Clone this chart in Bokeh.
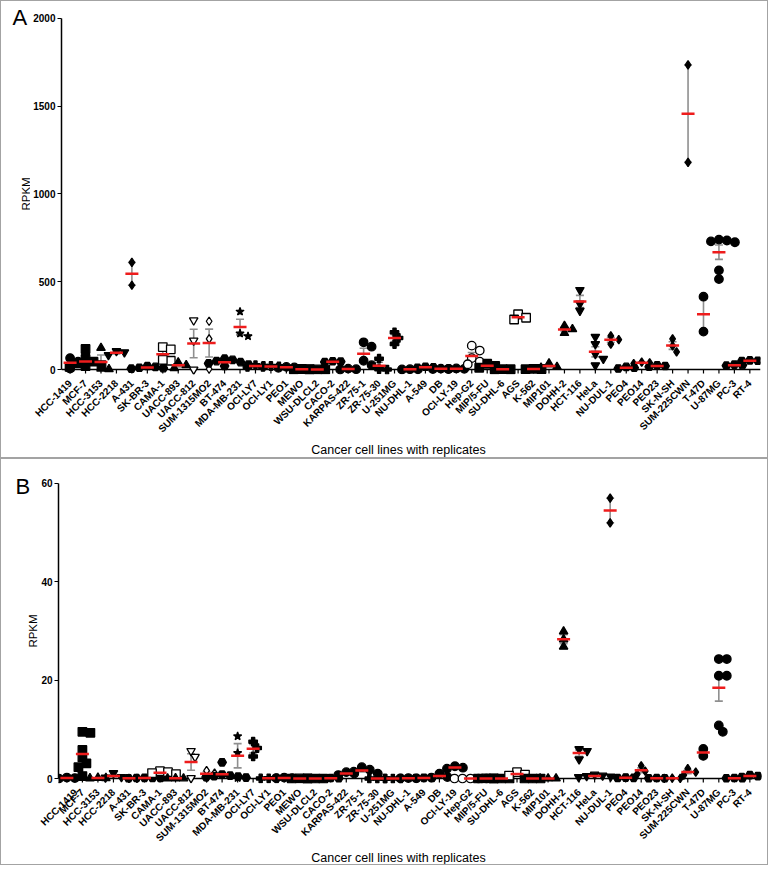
import numpy as np
from bokeh.plotting import figure
from bokeh.models import Range1d, FixedTicker, Label, ColumnDataSource
from bokeh.core.properties import field
from bokeh.layouts import column, row
from bokeh.embed import file_html
from bokeh.resources import INLINE

cell_lines = ["HCC-1419", "MCF-7", "HCC-3153", "HCC-2218", "A-431", "SK-BR-3", "CAMA-1",
              "UACC-893", "UACC-812", "SUM-1315MO2", "BT-474", "MDA-MB-231", "OCI-LY7",
              "OCI-LY1", "PEO1", "MEWO", "WSU-DLCL2", "CACO-2", "KARPAS-422", "ZR-75-1",
              "ZR-75-30", "U-251MG", "NU-DHL-1", "A-549", "DB", "OCI-LY-19", "Hep-G2",
              "MIP/5-FU", "SU-DHL-6", "AGS", "K-562", "MIP101", "DOHH-2", "HCT-116", "HeLa",
              "NU-DUL-1", "PEO4", "PEO14", "PEO23", "SK-N-SH", "SUM-225CWN", "T-47D",
              "U-87MG", "PC-3", "RT-4"]

# Panel A replicates (RPKM)
rpkm_a = [
    [65, 45, 5], [117, 60, 45, 35, 25, 20, 15], [123, 5, 2], [105, 98, 82], [610, 480],
    [20, 15, 10, 5, 8], [128, 115, 50, 55], [40, 25, 8], [280, 165, 0], [275, 175, 3],
    [62, 55, 48, 42, 35, 28, 20], [330, 205, 190], [25, 20, 15], [20, 15, 18], [15, 10, 12],
    [3, 2, 1], [0.5, 0.3, 0.2], [47, 45, 43], [5, 2, 0], [155, 130, 50, 25],
    [62, 2, 0], [212, 180, 145], [2, 1, 0.5], [16, 12, 10], [5, 4, 3],
    [6, 4, 3], [136, 108, 65, 45, 30], [33, 20, 10], [2, 1.5, 1], [315, 295, 285],
    [4, 3, 2], [35, 15, 10], [248, 230, 208], [453, 375, 335], [186, 145, 89, 61, 24],
    [192, 170, 145], [15, 10, 6], [42, 38, 34], [24, 20, 16], [175, 135, 100],
    [1735, 1180], [415, 216], [740, 735, 730, 725, 565, 515], [28, 22, 25], [52, 48, 50],
]

# Panel B replicates (RPKM)
rpkm_b = [
    [0.2, 0.1, 0.0], [9.5, 9.3, 5.8, 4.3, 3.1, 2.3, 0.5], [0.15, 0.1, 0.05], [1.1, 0.3, 0.2],
    [0.05, 0.05], [0.15, 0.1, 0.1, 0.05, 0.1], [1.5, 1.3, 0.9, 1.1], [0.05, 0.03, 0.02],
    [5.6, 4.4, 0.1], [1.6, 1.1, 0.2], [3.3, 0.8, 0.6, 0.5, 0.4, 0.3, 0.2], [8.6, 5.2, 0.1],
    [7.5, 6.2, 4.5], [0.05, 0.03, 0.02], [0.2, 0.1, 0.1], [0.02, 0.01, 0.0], [0.0, 0.0, 0.0],
    [0.1, 0.05, 0.05], [1.3, 1.0, 0.7], [2.3, 1.8, 1.4, 1.0], [0.0, 0.0, 0.0], [0.0, 0.0, 0.0],
    [0.1, 0.05, 0.05], [0.15, 0.1, 0.1], [1.0, 0.3, 0.2], [2.5, 2.2, 2.0],
    [0.0, 0.0, 0.0, 0.0, 0.0], [0.02, 0.01, 0.0], [0.0, 0.0, 0.0], [1.3, 0.8, 0.6],
    [0.0, 0.0, 0.0], [0.02, 0.01, 0.0], [29.9, 28.3, 26.8], [6.0, 5.6, 3.9],
    [0.8, 0.6, 0.5, 0.4, 0.3], [57.0, 52.0], [0.2, 0.15, 0.1], [2.6, 1.5, 0.9],
    [0.1, 0.05, 0.05], [0.1, 0.05, 0.05], [2.0, 1.3, 0.7], [6.0, 4.6],
    [24.3, 24.3, 20.9, 20.9, 10.8, 9.5], [0.1, 0.05, 0.05], [0.7, 0.5, 0.3],
]

ticks_a = [0, 500, 1000, 1500, 2000]
ticks_b = [0, 20, 40, 60]
x_title = "Cancer cell lines with replicates"
y_title = "RPKM"

# marker styles per cell line
marker_types = ["circle", "square", "triangle", "inverted_triangle", "diamond", "hex", "square",
                "triangle", "inverted_triangle", "diamond", "hex", "star", "plus", "plus",
                "circle", "square", "square", "hex", "circle", "circle", "plus", "plus",
                "circle", "hex", "circle", "circle", "circle", "square", "square", "square",
                "square", "triangle", "triangle", "inverted_triangle", "inverted_triangle",
                "diamond", "hex", "diamond", "hex", "diamond", "diamond", "circle", "circle",
                "hex", "hex"]
open_markers = {6, 8, 9, 26, 29}

FONT = "Liberation Sans"
RED = "#ee1c1c"
GRAY = "#8f8f8f"
WHITE_BG = {"background-color": "white"}


def swarm(vals, pxu, pxc, step=4.0, mind=6.5):
    order = np.argsort(vals)[::-1]
    placed = []
    offs = [0.0] * len(vals)
    cands = [0] + [s * m for m in range(1, 25) for s in (1, -1)]
    for i in order:
        y = vals[i] * pxu
        dx = 0.0
        for c in cands:
            dx = c * step
            if all((dx - px) ** 2 + (y - py) ** 2 >= mind ** 2 for px, py in placed):
                break
        placed.append((dx, y))
        offs[i] = dx / pxc
    return offs


def blank(width, height, mb_top=0, mb_bottom=0):
    fh = height - mb_top - mb_bottom
    f = figure(width=width, height=height, x_range=Range1d(0, width), y_range=Range1d(fh, 0),
               x_axis_type=None, y_axis_type=None, output_backend="svg", toolbar_location=None,
               min_border_left=0, min_border_right=0, min_border_top=mb_top,
               min_border_bottom=mb_bottom)
    f.outline_line_color = None
    f.background_fill_color = "white"
    f.border_fill_color = "white"
    return f


def main_plot(data, yticks, x_start, x_end, width, height, mb_left, mb_right, mb_top,
              mb_bottom, zero_pad_px, top_pad_px):
    frame_w = width - mb_left - mb_right
    frame_h = height - mb_top - mb_bottom
    y_max = yticks[-1]
    pxu = (frame_h - zero_pad_px - top_pad_px) / y_max
    y_start = -zero_pad_px / pxu
    y_end = y_max + top_pad_px / pxu
    pxc = frame_w / (x_end - x_start)

    p = figure(width=width, height=height, x_range=Range1d(x_start, x_end),
               y_range=Range1d(y_start, y_end), output_backend="svg", toolbar_location=None,
               min_border_left=mb_left, min_border_right=mb_right, min_border_top=mb_top,
               min_border_bottom=mb_bottom)
    p.background_fill_color = "white"
    p.border_fill_color = "white"
    p.outline_line_color = None
    p.xgrid.grid_line_color = None
    p.ygrid.grid_line_color = None

    n = len(cell_lines)
    # x axis line and ticks drawn at y = 0
    p.segment(x0=[x_start], y0=[0], x1=[x_end], y1=[0], line_color="black", line_width=1.5)
    p.segment(x0=list(range(n)), y0=[0] * n, x1=list(range(n)), y1=[-4 / pxu] * n,
              line_color="black", line_width=1.2)

    xs, ys, mk, fills = [], [], [], []
    mx, my, lo, hi = [], [], [], []
    for i, vals in enumerate(data):
        v = np.array(vals, dtype=float)
        offs = swarm(v, pxu, pxc)
        for val, o in zip(v, offs):
            xs.append(i + o)
            ys.append(val)
            mk.append(marker_types[i])
            fills.append("white" if i in open_markers else "black")
        m = v.mean()
        sem = v.std(ddof=1) / np.sqrt(len(v)) if len(v) > 1 else 0.0
        mx.append(i)
        my.append(m)
        lo.append(m - sem)
        hi.append(m + sem)

    p.segment(x0=mx, y0=lo, x1=mx, y1=hi, line_color=GRAY, line_width=1.6)
    p.scatter(x=mx + mx, y=lo + hi, marker="dash", size=8, line_color=GRAY, line_width=1.6)
    src = ColumnDataSource(dict(x=xs, y=ys, marker=mk, fill=fills))
    p.scatter("x", "y", source=src, marker=field("marker"), size=8.5, fill_color=field("fill"),
              line_color="black", line_width=1.3)
    p.scatter(x=mx, y=my, marker="dash", size=13, line_color=RED, line_width=2.5)

    p.xaxis.ticker = FixedTicker(ticks=list(range(n)))
    p.xaxis.major_label_overrides = {i: nm for i, nm in enumerate(cell_lines)}
    p.xaxis.major_label_orientation = np.pi / 4
    p.xaxis.axis_line_color = None
    p.xaxis.major_tick_line_color = None
    p.xaxis.minor_tick_line_color = None
    p.xaxis.major_label_standoff = 1
    p.yaxis.ticker = FixedTicker(ticks=yticks)
    p.yaxis.bounds = (0, y_max)
    p.yaxis.minor_tick_line_color = None
    p.yaxis.major_tick_out = 4
    p.yaxis.major_tick_in = 0
    p.yaxis.axis_line_width = 1.5
    p.yaxis.major_tick_line_width = 1.2
    p.yaxis.major_label_standoff = 2
    for ax in (p.xaxis, p.yaxis):
        ax.major_label_text_font = FONT
        ax.major_label_text_font_style = "bold"
        ax.major_label_text_color = "black"
    p.xaxis.major_label_text_font_size = "10px"
    p.yaxis.major_label_text_font_size = "10px"
    return p


def side(width, height, mb_top, mb_bottom, letter, letter_xy, ylab_xy):
    f = blank(width, height, mb_top, mb_bottom)
    f.add_layout(Label(x=letter_xy[0], y=letter_xy[1], text=letter, text_font=FONT,
                       text_font_size="22px", text_align="left", text_baseline="alphabetic",
                       text_color="black"))
    f.add_layout(Label(x=ylab_xy[0], y=ylab_xy[1], text=y_title, text_font=FONT,
                       text_font_size="11.5px", text_align="center", text_baseline="middle",
                       angle=np.pi / 2, text_color="black"))
    return f


def title_fig(width, height, cx, cy):
    f = blank(width, height)
    f.add_layout(Label(x=cx, y=cy, text=x_title, text_font=FONT, text_font_size="12.5px",
                       text_align="center", text_baseline="middle", text_color="black"))
    return f


# Panel A (456 px tall): frame top at 5, "2000" at 18, zero at 371
sideA = side(29, 440, 4, 65, "A", (11, 12), (24, 189.5))
mainA = main_plot(rpkm_a, ticks_a, -0.556, 44.69, 737, 440, 30, 7, 4, 65, 5, 13)
titleA = title_fig(766, 16, 397, 8)
panelA = column(row(sideA, mainA, styles=WHITE_BG), titleA, styles=WHITE_BG)

# Panel B (405 px tall): frame top at 476, "60" at 483, zero at 780
sideB = side(37, 391, 17, 65, "B", (14, 10), (31, 155.5))
mainB = main_plot(rpkm_b, ticks_b, -0.54, 44.75, 729, 391, 19, 6, 17, 65, 5, 7)
titleB = title_fig(766, 14, 397, 7)
panelB = column(row(sideB, mainB, styles=WHITE_BG), titleB, styles=WHITE_BG)

layout = column(panelA, panelB, spacing=2,
                styles={"background-color": "#a3a3a3", "padding": "1px"})

open("out.html", "w").write(file_html(layout, INLINE))
